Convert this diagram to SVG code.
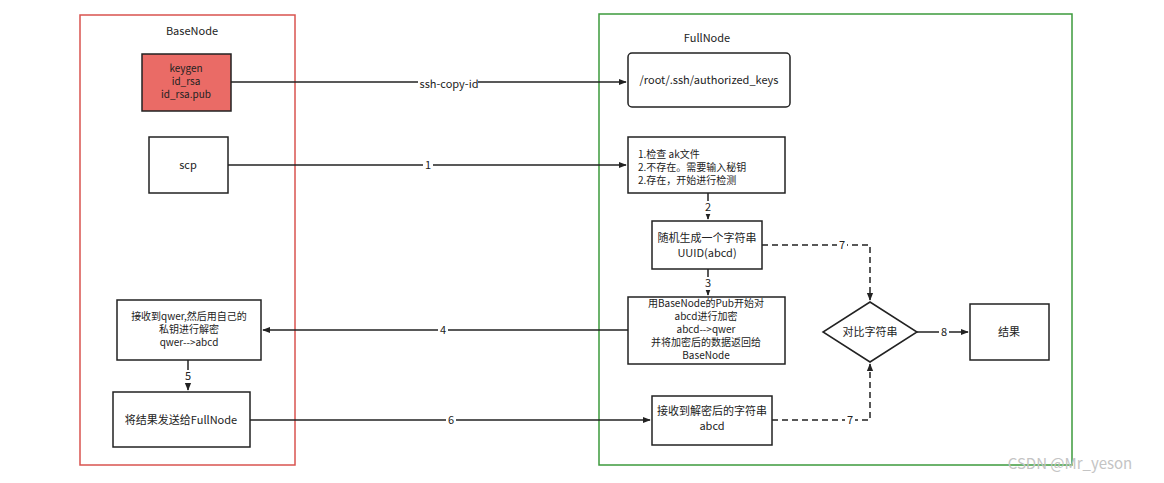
<svg xmlns="http://www.w3.org/2000/svg" width="1164" height="483" viewBox="0 0 1164 483">
<style>
text{font-family:"Microsoft YaHei","Noto Sans CJK SC",sans-serif;font-size:11px;fill:#222;text-anchor:middle}
.s{font-size:10px}
.b{fill:#fff;stroke:#222;stroke-width:1.5}
.c{fill:none;stroke:#222;stroke-width:1.5}
.d{stroke-dasharray:6 4}
.l{fill:#fff}
</style>
<defs><marker id="a" viewBox="0 0 10 10" refX="9" refY="5" markerWidth="8" markerHeight="8" orient="auto" markerUnits="userSpaceOnUse"><path d="M0,1L10,5L0,9z" fill="#222"/></marker></defs>
<rect width="1164" height="483" fill="#fff"/>
<g id="basenode"><rect x="80" y="15" width="215" height="450" fill="none" stroke="#d9534f" stroke-width="1.5"/><text x="192" y="35">BaseNode</text></g>
<g id="fullnode"><rect x="599" y="14" width="473" height="451" fill="none" stroke="#3c9a3c" stroke-width="1.5"/><text x="707" y="42">FullNode</text></g>
<g id="connectors">
<path class="c" d="M231,82H626" marker-end="url(#a)"/><rect class="l" x="418" y="77" width="60" height="14"/><text x="449" y="88">ssh-copy-id</text>
<path class="c" d="M228,165H626" marker-end="url(#a)"/><rect class="l" x="423" y="159" width="10" height="13"/><text x="428" y="169">1</text>
<path class="c" d="M708,193V219" marker-end="url(#a)"/><rect class="l" x="703" y="201" width="10" height="13"/><text x="708" y="211">2</text>
<path class="c" d="M708,269V295" marker-end="url(#a)"/><rect class="l" x="703" y="277" width="10" height="13"/><text x="708" y="287">3</text>
<path class="c" d="M628,330H263" marker-end="url(#a)"/><rect class="l" x="438" y="324" width="10" height="13"/><text x="443" y="334">4</text>
<path class="c" d="M188,360V390" marker-end="url(#a)"/><rect class="l" x="183" y="370" width="10" height="13"/><text x="188" y="380">5</text>
<path class="c" d="M250,420H650" marker-end="url(#a)"/><rect class="l" x="446" y="414" width="10" height="13"/><text x="451" y="424">6</text>
<path class="c d" d="M762,245H870V300" marker-end="url(#a)"/><rect class="l" x="837" y="239" width="10" height="13"/><text x="842" y="249">7</text>
<path class="c d" d="M772,420H870V364" marker-end="url(#a)"/><rect class="l" x="845" y="414" width="10" height="13"/><text x="850" y="424">7</text>
<path class="c" d="M917,332H968" marker-end="url(#a)"/><rect class="l" x="939" y="326" width="10" height="13"/><text x="944" y="336">8</text>
</g>
<g id="keygen" class="s"><rect x="142" y="54" width="89" height="57" fill="#ea6b66" stroke="#222" stroke-width="1.5"/><text class="s" x="186" y="72">keygen</text><text class="s" x="186" y="85">id_rsa</text><text class="s" x="186" y="98">id_rsa.pub</text></g>
<g id="authkeys"><rect class="b" x="628" y="53" width="162" height="54" rx="4"/><text x="709" y="84">/root/.ssh/authorized_keys</text></g>
<g id="scp"><rect class="b" x="149" y="137" width="79" height="56"/><text x="188" y="169">scp</text></g>
<g id="check"><rect class="b" x="628" y="137" width="157" height="56"/><text class="s" x="638" y="158" style="text-anchor:start">1.检查 ak文件</text><text class="s" x="638" y="171" style="text-anchor:start">2.不存在。需要输入秘钥</text><text class="s" x="638" y="184" style="text-anchor:start">2.存在，开始进行检测</text></g>
<g id="uuid"><rect class="b" x="652" y="221" width="110" height="48"/><text x="707" y="242">随机生成一个字符串</text><text x="707" y="257">UUID(abcd)</text></g>
<g id="encrypt"><rect class="b" x="628" y="297" width="157" height="67"/><text class="s" x="706" y="307">用BaseNode的Pub开始对</text><text class="s" x="706" y="320">abcd进行加密</text><text class="s" x="706" y="333">abcd--&gt;qwer</text><text class="s" x="706" y="346">并将加密后的数据返回给</text><text class="s" x="706" y="359">BaseNode</text></g>
<g id="compare"><path class="b" d="M870,302L917,332L870,362L823,332Z"/><text x="870" y="336">对比字符串</text></g>
<g id="result"><rect class="b" x="970" y="304" width="79" height="56"/><text x="1009" y="336">结果</text></g>
<g id="decrypt"><rect class="b" x="117" y="300" width="144" height="60"/><text class="s" x="189" y="320">接收到qwer,然后用自己的</text><text class="s" x="189" y="333">私钥进行解密</text><text class="s" x="189" y="346">qwer--&gt;abcd</text></g>
<g id="send"><rect class="b" x="113" y="392" width="137" height="55"/><text x="181" y="424">将结果发送给FullNode</text></g>
<g id="receive"><rect class="b" x="652" y="396" width="120" height="49"/><text x="712" y="415">接收到解密后的字符串</text><text x="712" y="430">abcd</text></g>
<text x="1070" y="469" style="font-size:15px;fill:#c4c4c4">CSDN @Mr_yeson</text>
</svg>
